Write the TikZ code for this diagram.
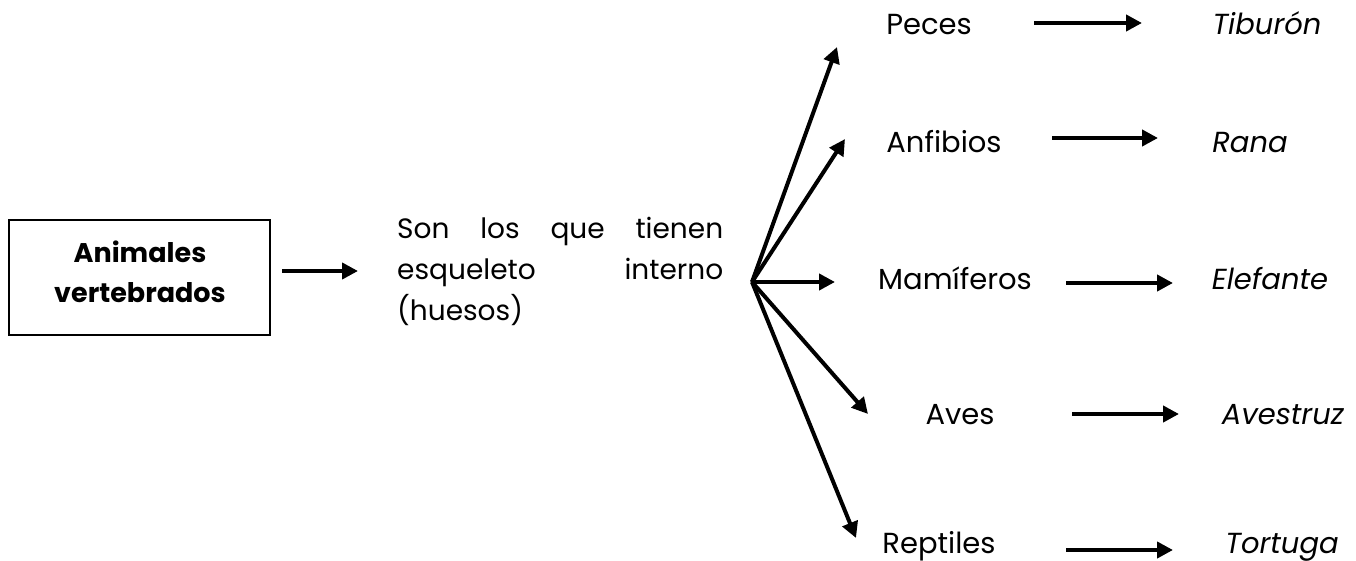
\documentclass[tikz,border=0pt]{standalone}
\usepackage{fontspec}
\setmainfont{Poppins}
\usetikzlibrary{arrows.meta}
\tikzset{
  lbl/.style={inner sep=0pt, anchor=base, font=\fontsize{29}{34}\selectfont},
  ex/.style={lbl, font=\fontsize{29}{34}\selectfont\itshape},
  boldlbl/.style={lbl, font=\fontsize{27}{34}\selectfont\bfseries},
  arr/.style={line width=4pt, -{Triangle[length=16pt,width=16pt]}},
  boxst/.style={draw, line width=2.5pt, minimum width=261pt, minimum height=115pt, inner sep=0pt}
}
\begin{document}
\begin{tikzpicture}[x=1pt,y=-1pt]
\useasboundingbox (0,0) rectangle (1356,561);
% box
\node[boxst] (box) at (139.5,277.5) {};
\node[boldlbl] (t1) at (140,262) {Animales};
\node[boldlbl] (t2) at (140,302) {vertebrados};
\coordinate (a0s) at (282,271);
\coordinate (a0e) at (358,271);
\draw[arr] (a0s) -- (a0e);
% description
\node[inner sep=0pt, anchor=base west, align=left, font=\fontsize{28}{41}\selectfont] (desc) at (397,320)
  {\makebox[326pt][s]{Son los que tienen}\\\makebox[326pt][s]{esqueleto interno}\\(huesos)};
% hub
\coordinate (hub) at (752,282);
\coordinate (p1) at (837,47);
\coordinate (p2) at (845,139);
\coordinate (p3) at (835,282);
\coordinate (p4) at (868,414);
\coordinate (p5) at (856,538);
\foreach \i in {1,...,5} \draw[arr] (hub) -- (p\i);
% classes
\node[lbl] (c1) at (929,35) {Peces};
\node[lbl] (c2) at (944,153) {Anfibios};
\node[lbl] (c3) at (955,289) {Mamíferos};
\node[lbl] (c4) at (960,424) {Aves};
\node[lbl] (c5) at (939,553) {Reptiles};
% examples
\node[ex] (e1) at (1267,35) {Tiburón};
\node[ex] (e2) at (1250,153) {Rana};
\node[ex] (e3) at (1270,289) {Elefante};
\node[ex] (e4) at (1283,424) {Avestruz};
\node[ex] (e5) at (1282,553) {Tortuga};
% horizontal arrows
\coordinate (h1s) at (1034,23);  \coordinate (h1e) at (1142,23);
\coordinate (h2s) at (1052,138); \coordinate (h2e) at (1158,138);
\coordinate (h3s) at (1066,283); \coordinate (h3e) at (1173,283);
\coordinate (h4s) at (1072,414); \coordinate (h4e) at (1179,414);
\coordinate (h5s) at (1066,550); \coordinate (h5e) at (1173,550);
\foreach \i in {1,...,5} \draw[arr] (h\i s) -- (h\i e);
\end{tikzpicture}
\end{document}
